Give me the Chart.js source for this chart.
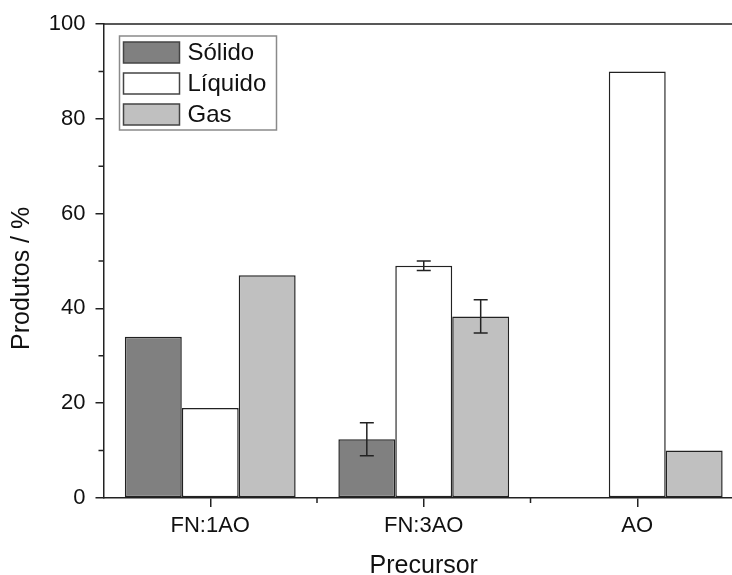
<!DOCTYPE html>
<html>
<head>
<meta charset="utf-8">
<script src="https://cdn.jsdelivr.net/npm/chart.js@4"></script>
<style>
  html, body { margin: 0; padding: 0; overflow: hidden; background: #fff; }
  #wrap { width: 750px; height: 575px; }
</style>
</head>
<body>
<div id="wrap"><canvas id="chart" width="750" height="575"></canvas></div>
<script>
// values
const categories = ['FN:1AO', 'FN:3AO', 'AO'];
const solido = [34, 12.4, 0];
const liquido = [19, 49, 90];
const gas = [47, 38.3, 10];
// error bars (only FN:3AO has them)
const solidoErr = [null, 3.5, null];
const liquidoErr = [null, 1, null];
const gasErr = [null, 3.5, null];
const yTicks = [0, 20, 40, 60, 80, 100];

const FONT = "'Liberation Sans', Arial, sans-serif";
const INK = '#222';

// error bars, drawn through the chart's own scales
const errorBars = {
    id: 'errorBars',
    afterDatasetsDraw(chart) {
        const ctx = chart.ctx;
        const y = chart.scales.y;
        ctx.save();
        ctx.strokeStyle = INK;
        ctx.lineWidth = 1.5;
        chart.data.datasets.forEach((ds, di) => {
            const meta = chart.getDatasetMeta(di);
            meta.data.forEach((bar, i) => {
                const e = ds.errors[i];
                if (!e) return;
                const v = ds.data[i];
                const top = y.getPixelForValue(v + e);
                const bot = y.getPixelForValue(v - e);
                const cap = 7;
                ctx.beginPath();
                ctx.moveTo(bar.x, top); ctx.lineTo(bar.x, bot);
                ctx.moveTo(bar.x - cap, top); ctx.lineTo(bar.x + cap, top);
                ctx.moveTo(bar.x - cap, bot); ctx.lineTo(bar.x + cap, bot);
                ctx.stroke();
            });
        });
        ctx.restore();
    }
};

// minor ticks + top frame line
const axisExtras = {
    id: 'axisExtras',
    afterDraw(chart) {
        const ctx = chart.ctx;
        const area = chart.chartArea;
        const x = chart.scales.x, y = chart.scales.y;
        ctx.save();
        ctx.strokeStyle = INK;
        ctx.lineWidth = 1.5;
        ctx.beginPath();
        // top line
        ctx.moveTo(area.left, area.top); ctx.lineTo(area.right, area.top);
        // minor y ticks
        for (let i = 0; i < yTicks.length - 1; i++) {
            const py = y.getPixelForValue((yTicks[i] + yTicks[i + 1]) / 2);
            ctx.moveTo(area.left - 5, py); ctx.lineTo(area.left, py);
        }
        // minor x ticks, between categories
        for (let i = 0; i < categories.length - 1; i++) {
            const px = (x.getPixelForValue(i) + x.getPixelForValue(i + 1)) / 2;
            ctx.moveTo(px, area.bottom); ctx.lineTo(px, area.bottom + 5);
        }
        ctx.stroke();
        ctx.restore();
    }
};

// legend box inside the plot, upper left
const boxLegend = {
    id: 'boxLegend',
    afterDraw(chart) {
        const ctx = chart.ctx;
        const area = chart.chartArea;
        const left = area.left + 16, top = area.top + 12;
        const w = 157, h = 94;
        ctx.save();
        ctx.strokeStyle = '#8a8a8a';
        ctx.lineWidth = 1.5;
        ctx.strokeRect(left, top, w, h);
        ctx.font = '24px ' + FONT;
        ctx.textBaseline = 'middle';
        chart.data.datasets.forEach((ds, i) => {
            const sy = top + 6 + i * 31;
            ctx.fillStyle = ds.backgroundColor;
            ctx.fillRect(left + 4, sy, 56, 21);
            ctx.strokeStyle = '#444';
            ctx.strokeRect(left + 4, sy, 56, 21);
            ctx.fillStyle = '#111';
            ctx.fillText(ds.label, left + 68, sy + 11);
        });
        ctx.restore();
    }
};

const barStyle = { borderColor: INK, borderWidth: 1.5, borderSkipped: false };

new Chart(document.getElementById('chart'), {
    type: 'bar',
    data: {
        labels: categories,
        datasets: [
            { label: 'Sólido', data: solido, errors: solidoErr, backgroundColor: '#808080', ...barStyle },
            { label: 'Líquido', data: liquido, errors: liquidoErr, backgroundColor: '#ffffff', ...barStyle },
            { label: 'Gas', data: gas, errors: gasErr, backgroundColor: '#c0c0c0', ...barStyle }
        ]
    },
    options: {
        responsive: false,
        animation: false,
        layout: { padding: { top: 24, right: 6, left: 0, bottom: 0 } },
        datasets: { bar: { categoryPercentage: 0.8, barPercentage: 1.0 } },
        plugins: {
            legend: { display: false },
            tooltip: { enabled: false }
        },
        scales: {
            x: {
                afterFit: (s) => { s.height = 77; },
                grid: { display: true, drawOnChartArea: false, offset: false, tickLength: 9, color: INK, lineWidth: 1.5 },
                border: { color: INK, width: 1.5 },
                ticks: { color: '#111', padding: 6, font: { family: FONT, size: 22 } },
                title: { display: true, text: 'Precursor', color: '#111', padding: 0, font: { family: FONT, size: 25, lineHeight: 0.7 } }
            },
            y: {
                min: yTicks[0],
                max: yTicks[yTicks.length - 1],
                afterFit: (s) => { s.width = 103.5; },
                grid: { display: true, drawOnChartArea: false, tickLength: 8, color: INK, lineWidth: 1.5 },
                border: { color: INK, width: 1.5 },
                ticks: { stepSize: 20, color: '#111', padding: 10, font: { family: FONT, size: 22 } },
                // trailing spaces push the rotated title a little lower, as in the original
                title: { display: true, text: 'Produtos / %     ', color: '#111', padding: { top: 10, bottom: 0 }, font: { family: FONT, size: 25, lineHeight: 1 } }
            }
        }
    },
    plugins: [errorBars, axisExtras, boxLegend]
});
</script>
</body>
</html>
